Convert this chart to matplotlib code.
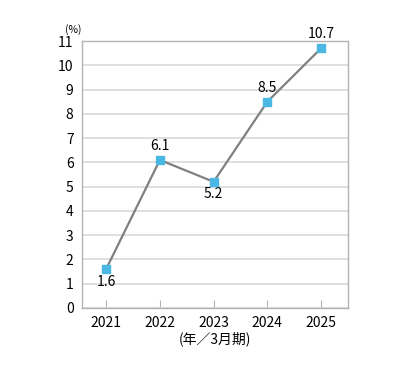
import matplotlib
matplotlib.use("Agg")
import matplotlib.pyplot as plt

years = ["2021", "2022", "2023", "2024", "2025"]
values = [1.6, 6.1, 5.2, 8.5, 10.7]
label_pos = ["below", "above", "below", "above", "above"]

plt.rcParams['font.family'] = ['Noto Sans CJK JP', 'DejaVu Sans']

fig = plt.figure(figsize=(3.94, 3.67), dpi=100)
ax = fig.add_axes([0.208, 0.161, 0.675, 0.727])

x = list(range(len(years)))
ax.plot(x, values, color="#808080", lw=1.6, zorder=3)
ax.plot(x, values, ls="none", marker="s", ms=6, color="#4ab8e3", zorder=4)

for xi, v, pos in zip(x, values, label_pos):
    if pos == "above":
        ax.annotate(f"{v}", (xi, v), xytext=(0, 5), textcoords="offset points",
                    ha="center", va="bottom", fontsize=10)
    else:
        ax.annotate(f"{v}", (xi, v), xytext=(0, -4), textcoords="offset points",
                    ha="center", va="top", fontsize=10)

ax.set_xlim(-0.45, 4.5)
ax.set_ylim(0, 11)
ax.set_yticks(range(0, 12))
ax.set_xticks(x)
ax.set_xticklabels(years)
ax.grid(axis="y", color="#d9d9d9", lw=1.2)
ax.set_axisbelow(True)
for s in ax.spines.values():
    s.set_color("#b3b3b3")
    s.set_linewidth(1)
ax.tick_params(axis="y", length=0, labelsize=10, pad=6)
ax.tick_params(axis="x", direction="in", length=6, color="#b3b3b3", labelsize=10, pad=6)
ax.set_xlabel("(年／3月期)", fontsize=10, labelpad=1)
fig.text(0.185, 0.905, "(%)", fontsize=7.5, ha="center", va="bottom")

fig.savefig("out.png", dpi=100)
